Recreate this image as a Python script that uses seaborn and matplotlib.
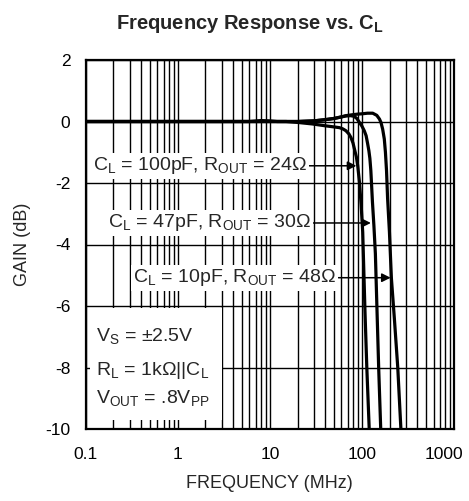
import matplotlib
matplotlib.use("Agg")
import matplotlib.pyplot as plt
from matplotlib.patches import Rectangle
from matplotlib.transforms import ScaledTranslation
import seaborn as sns
import pandas as pd

# ---- data ----
freq_100pF = [0.1, 0.5, 1, 3, 6, 8, 10, 12, 15, 20, 29, 40, 48, 57, 62, 67, 72, 76, 80, 83, 87, 90, 94, 98, 102, 108, 113, 120]
gain_100pF = [0, 0, 0, 0, 0, 0.03, 0.02, 0, 0, -0.03, -0.08, -0.14, -0.17, -0.2, -0.24, -0.3, -0.4, -0.52, -0.7, -0.9, -1.15, -1.44, -1.97, -2.7, -3.6, -6.2, -8.0, -10]

freq_47pF = [0.1, 1, 10, 20, 30, 40, 50, 60, 67, 75, 82, 88, 94, 100, 106, 111, 115, 119, 122, 125, 127, 130, 135, 140, 146, 152, 160]
gain_47pF = [0, 0, 0, 0, 0.02, 0.06, 0.1, 0.15, 0.18, 0.19, 0.17, 0.1, -0.03, -0.15, -0.3, -0.46, -0.7, -0.95, -1.2, -1.6, -2.0, -2.6, -3.4, -4.3, -6.2, -8.0, -10]

freq_10pF = [0.1, 1, 10, 20, 30, 40, 50, 60, 67, 79, 90, 100, 115, 131, 145, 155, 161, 168, 175, 180, 185, 190, 199, 209, 225, 245, 265]
gain_10pF = [0, 0, 0, 0, 0.02, 0.06, 0.1, 0.15, 0.19, 0.22, 0.24, 0.25, 0.27, 0.27, 0.2, 0.08, -0.03, -0.25, -0.57, -1.0, -1.6, -2.5, -3.6, -5.1, -6.4, -8.0, -10]

curve_labels = [r"C$_L$ = 100pF, R$_{OUT}$ = 24Ω",
                r"C$_L$ = 47pF, R$_{OUT}$ = 30Ω",
                r"C$_L$ = 10pF, R$_{OUT}$ = 48Ω"]
label_text_pos = [(0.12, -1.44), (0.174, -3.3), (0.326, -5.08)]
arrow_tips = [(87, -1.44), (125, -3.3), (205, -5.08)]

x_ticks = [0.1, 1, 10, 100, 1000]
x_tick_labels = ["0.1", "1", "10", "100", "1000"]
y_ticks = [2, 0, -2, -4, -6, -8, -10]

cond_lines = [r"V$_S$ = ±2.5V", r"R$_L$ = 1kΩ||C$_L$", r"V$_{OUT}$ = .8V$_{PP}$"]

# ---- build table ----
rows = []
for name, fs, gs in [("100pF", freq_100pF, gain_100pF), ("47pF", freq_47pF, gain_47pF), ("10pF", freq_10pF, gain_10pF)]:
    for f, g in zip(fs, gs):
        rows.append({"curve": name, "freq": f, "gain": g})
df = pd.DataFrame(rows)

sns.set_style("white")
plt.rcParams["font.family"] = ["Liberation Sans", "DejaVu Sans"]
plt.rcParams["mathtext.default"] = "regular"

W, H = 469, 501
fig = plt.figure(figsize=(W / 100, H / 100), dpi=100)
L, R, T, B = 85.7, 454, 60, 429
ax = fig.add_axes([L / W, 1 - B / H, (R - L) / W, (B - T) / H])

ax.set_xscale("log")
ax.set_xlim(0.1, 1000)
ax.set_ylim(-10, 2)

sns.lineplot(data=df, x="freq", y="gain", hue="curve", palette=["black"] * 3,
             estimator=None, sort=False, legend=False, lw=2.3, ax=ax, zorder=5)

ax.grid(True, which="both", axis="x", color="black", lw=1.0)
ax.grid(True, which="major", axis="y", color="black", lw=1.0)
ax.set_axisbelow(True)

ax.set_xticks(x_ticks)
ax.set_xticklabels(x_tick_labels)
ax.set_yticks(y_ticks)
ax.set_yticklabels([str(v) for v in y_ticks])
ax.tick_params(axis="both", which="both", length=0, labelsize=12.5, colors="black")
ax.tick_params(axis="x", pad=13)
ax.tick_params(axis="y", pad=11)

# shift the last x tick label left so it stays inside the figure, as in the reference
last = ax.get_xticklabels()[-1]
last.set_transform(last.get_transform() + ScaledTranslation(-0.10, 0, fig.dpi_scale_trans))

for s in ax.spines.values():
    s.set_color("black")
    s.set_linewidth(1.6)

ax.set_xlabel("FREQUENCY (MHz)", fontsize=13, labelpad=9)
ax.set_ylabel("GAIN (dB)", fontsize=13, labelpad=10)

fig.text(250 / W, 1 - 29 / H, r"Frequency Response vs. C$_L$", fontsize=14.5,
         fontweight="bold", ha="center", va="baseline")

for lab, (tx, ty), (px, py) in zip(curve_labels, label_text_pos, arrow_tips):
    ax.annotate(lab, xy=(px, py), xytext=(tx, ty), fontsize=14, ha="left", va="center",
                bbox=dict(boxstyle="square,pad=0.12", fc="white", ec="none"),
                arrowprops=dict(arrowstyle="-|>", color="black", lw=1.1, shrinkA=0, shrinkB=0,
                                mutation_scale=13),
                zorder=6)

# condition box
ax.add_patch(Rectangle((0.012, 0.024), 0.358, 0.305, transform=ax.transAxes,
                       fc="white", ec="none", zorder=3))
for line, yy in zip(cond_lines, [0.252, 0.158, 0.085]):
    ax.text(0.028, yy, line, transform=ax.transAxes, fontsize=14, ha="left", va="center", zorder=4)

fig.savefig("out.png", dpi=100)
